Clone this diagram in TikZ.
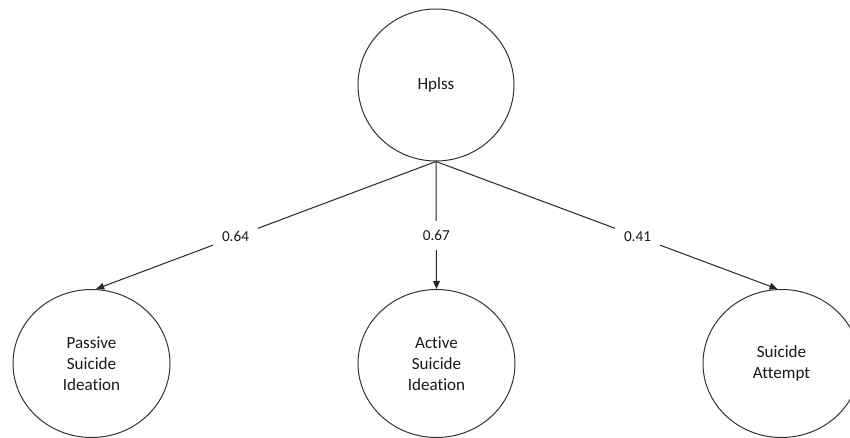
\documentclass[tikz,border=0pt]{standalone}
\usepackage{fontspec}
\setmainfont{Carlito}[Ligatures={NoCommon,NoRare,NoContextual}]
\usetikzlibrary{shapes.geometric,arrows.meta}
\begin{document}
\begin{tikzpicture}[x=0.75pt,y=-0.75pt,
  latent/.style={draw=black!80, line width=0.75pt, ellipse, inner sep=0pt, align=center,
    font=\fontsize{12.8}{15.8}\selectfont, text=black!90},
  topnode/.style={latent, minimum width=117pt, minimum height=114pt},
  botnode/.style={latent, minimum width=117.75pt, minimum height=111pt},
  path/.style={draw=black!85, line width=0.75pt, -{Triangle[length=6pt,width=5pt]}},
  coef/.style={fill=white, inner sep=7pt, font=\fontsize{11.4}{13.5}\selectfont, text=black!90}]
\useasboundingbox (0,0) rectangle (850,438);
\node[topnode] (h) at (436,85) {Hplss};
\node[botnode] (p) at (91.5,363.5) {Passive\\Suicide\\Ideation};
\node[botnode] (a) at (436.5,363.5) {Active\\Suicide\\Ideation};
\node[botnode] (s) at (781.5,363.5) {Suicide\\Attempt};
\draw[path] (h.south) -- node[coef, pos=0.59] {0.64} ([xshift=3.5pt]p.north);
\draw[path] (h.south) -- node[coef, pos=0.58] {0.67} (a.north);
\draw[path] (h.south) -- node[coef, pos=0.59] {0.41} ([xshift=-3pt]s.north);
\end{tikzpicture}
\end{document}
